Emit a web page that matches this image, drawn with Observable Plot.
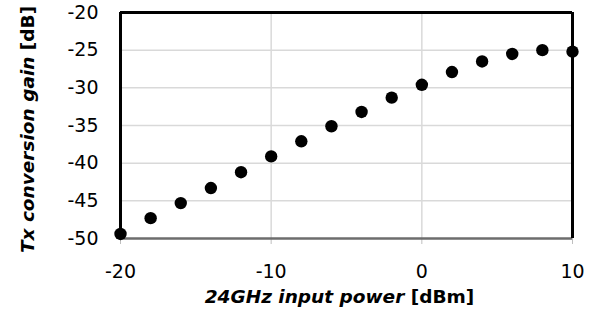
<!DOCTYPE html>
<html>
<head>
<meta charset="utf-8">
<script src="https://cdn.jsdelivr.net/npm/d3@7"></script>
<script src="https://cdn.jsdelivr.net/npm/@observablehq/plot@0.6"></script>
<style>
  html, body { margin: 0; padding: 0; background: #fff; }
  svg { display: block; }
</style>
</head>
<body>
<div id="chart"></div>
<script>
const inputPower = [-20, -18, -16, -14, -12, -10, -8, -6, -4, -2, 0, 2, 4, 6, 8, 10];
const conversionGain = [-49.4, -47.3, -45.3, -43.3, -41.2, -39.1, -37.1, -35.1, -33.2, -31.3, -29.6, -27.9, -26.5, -25.5, -25.0, -25.2];
const xTicks = [-20, -10, 0, 10];
const yTicks = [-50, -45, -40, -35, -30, -25, -20];
const xTitle = ["24GHz input power", " [dBm]"];
const yTitle = ["Tx conversion gain", " [dB]"];

const data = inputPower.map((x, i) => ({x, y: conversionGain[i]}));
const font = "DejaVu Sans, sans-serif";
const fmt = d => String(d);

const plot = Plot.plot({
  width: 600,
  height: 322,
  marginLeft: 120,
  marginRight: 28,
  marginTop: 12,
  marginBottom: 84,
  style: {fontFamily: font, fontSize: "18px", color: "#000", background: "#fff"},
  x: {domain: [-20, 10]},
  y: {domain: [-50, -20]},
  marks: [
    Plot.ruleY(yTicks.slice(1, -1), {stroke: "#d9d9d9", strokeWidth: 1.5}),
    Plot.ruleX(xTicks.slice(1, -1), {stroke: "#d9d9d9", strokeWidth: 1.5}),
    Plot.axisX({ticks: xTicks, tickFormat: fmt, tickSize: 6, tickPadding: 20, stroke: "#bfbfbf", fill: "#000", fontSize: 19, label: null}),
    Plot.axisY({ticks: yTicks, tickFormat: fmt, tickSize: 0, tickPadding: 22, fill: "#000", fontSize: 19, label: null}),
    Plot.ruleY([-50], {stroke: "#6d6d6d", strokeWidth: 2.5}),
    Plot.ruleY([-20], {stroke: "#000", strokeWidth: 3}),
    Plot.ruleX([-20], {stroke: "#000", strokeWidth: 3}),
    Plot.ruleX([10], {stroke: "#000", strokeWidth: 3}),
    Plot.dot(data, {x: "x", y: "y", r: 6.2, fill: "#000", stroke: null}),
    Plot.text([xTitle.join("")], {frameAnchor: "bottom", dx: -7, dy: 64, fontSize: 18.5, fontWeight: "bold", fill: "#000"}),
    Plot.text([yTitle.join("")], {frameAnchor: "left", textAnchor: "middle", dx: -92, dy: 4, rotate: -90, fontSize: 18.5, fontWeight: "bold", fill: "#000"})
  ]
});

function styleTitle(parts) {
  const full = parts.join("");
  plot.querySelectorAll("text").forEach(el => {
    if (el.textContent === full) {
      const t = d3.select(el);
      t.text(null);
      t.append("tspan").attr("font-style", "italic").text(parts[0]);
      t.append("tspan").attr("font-style", "normal").text(parts[1]);
    }
  });
}
styleTitle(xTitle);
styleTitle(yTitle);

document.getElementById("chart").appendChild(plot);
</script>
</body>
</html>
